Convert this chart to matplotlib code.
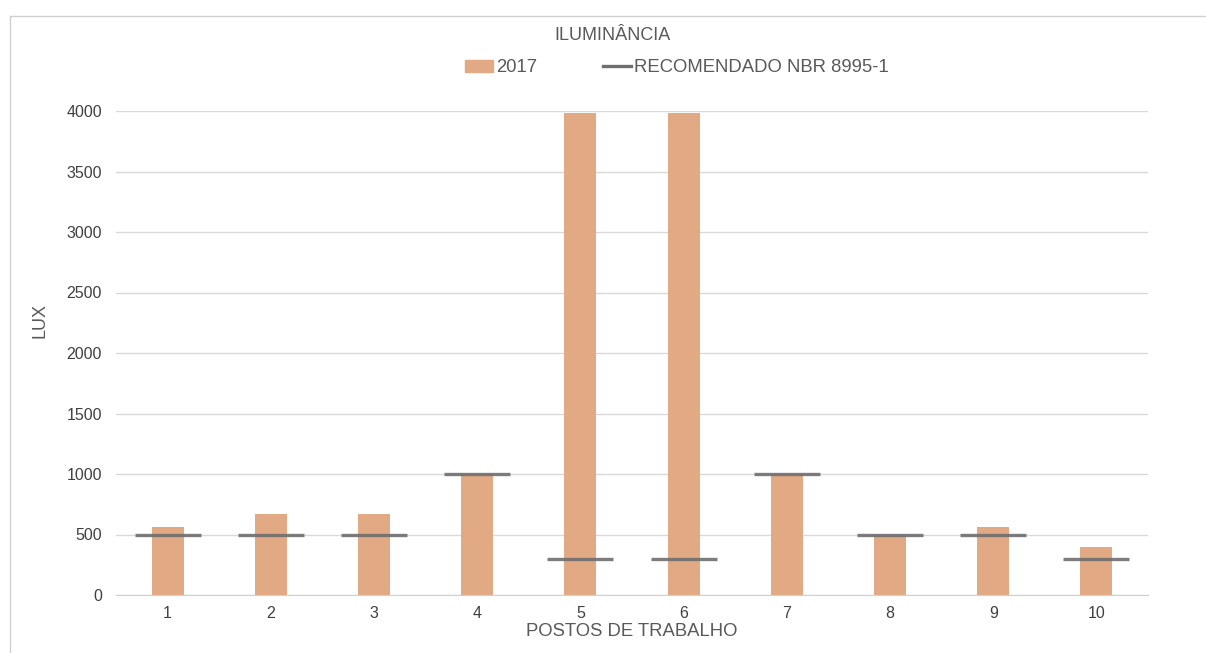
import matplotlib
matplotlib.use("Agg")
import matplotlib.pyplot as plt
from matplotlib.lines import Line2D
import numpy as np

# Workstations and measured illuminance
postos = ["1", "2", "3", "4", "5", "6", "7", "8", "9", "10"]
lux_2017 = [560, 670, 670, 1000, 3980, 3980, 1000, 500, 560, 400]
recomendado = [500, 500, 500, 1000, 300, 300, 1000, 500, 500, 300]
y_ticks = [0, 500, 1000, 1500, 2000, 2500, 3000, 3500, 4000]

plt.rcParams["font.family"] = ["Liberation Sans", "DejaVu Sans"]
text_color = "#595959"
bar_color = "#E2AA84"
line_color = "#6f6f6f"

fig = plt.figure(figsize=(12.06, 6.53), dpi=100)
ax = fig.add_axes([116 / 1206, 1 - 595 / 653, (1148 - 116) / 1206, (595 - 111) / 653])

x = np.arange(len(postos))
ax.bar(x, lux_2017, width=0.31, color=bar_color, zorder=2, label="2017")
ax.hlines(recomendado, x - 0.32, x + 0.32, colors=line_color, linewidth=2.4,
          alpha=0.9, zorder=3)

ax.set_xlim(-0.5, len(postos) - 0.5)
ax.set_ylim(0, 4000)
ax.set_xticks(x)
ax.set_xticklabels(postos)
ax.set_yticks(y_ticks)
ax.tick_params(axis="both", length=0, labelsize=11.5, colors="#404040")
ax.tick_params(axis="x", pad=8)
ax.tick_params(axis="y", pad=10)
ax.grid(axis="y", color="#d9d9d9", linewidth=1, zorder=0)
for side in ["top", "right", "left"]:
    ax.spines[side].set_visible(False)
ax.spines["bottom"].set_color("#d0d0d0")

ax.set_xlabel("POSTOS DE TRABALHO", fontsize=13.3, color=text_color, labelpad=1)
fig.text(40 / 1206, 1 - 321 / 653, "LUX", rotation=90, fontsize=13,
         color=text_color, ha="center", va="center")
fig.text(613 / 1206, 1 - 35 / 653, "ILUMINÂNCIA", fontsize=13, color=text_color,
         ha="center", va="center")

handles = [
    plt.Rectangle((0, 0), 1, 1, color=bar_color),
    Line2D([0], [0], color=line_color, linewidth=2.4),
]
fig.legend(handles, ["2017", "RECOMENDADO NBR 8995-1"], loc="center",
           bbox_to_anchor=(677 / 1206, 1 - 68 / 653), ncol=2, frameon=False,
           fontsize=13.3, labelcolor=text_color, handlelength=1.5, handletextpad=0.15,
           columnspacing=3.6, handleheight=0.6)

# Outer chart border
fig.add_artist(Line2D([9.5 / 1206, 9.5 / 1206], [0, 1 - 15.5 / 653],
                      transform=fig.transFigure, color="#d0d0d0", linewidth=1))
fig.add_artist(Line2D([9.5 / 1206, 1], [1 - 15.5 / 653, 1 - 15.5 / 653],
                      transform=fig.transFigure, color="#d0d0d0", linewidth=1))

fig.savefig("out.png", dpi=100, facecolor="white")
